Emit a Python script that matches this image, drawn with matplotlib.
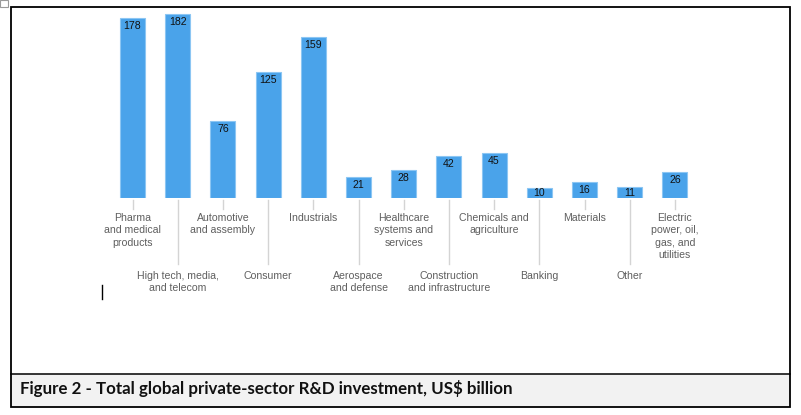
import matplotlib
matplotlib.use("Agg")
import matplotlib.pyplot as plt
from matplotlib.patches import Rectangle
from matplotlib.lines import Line2D

# ---- data ----
categories = [
    "Pharma\nand medical\nproducts",
    "High tech, media,\nand telecom",
    "Automotive\nand assembly",
    "Consumer",
    "Industrials",
    "Aerospace\nand defense",
    "Healthcare\nsystems and\nservices",
    "Construction\nand infrastructure",
    "Chemicals and\nagriculture",
    "Banking",
    "Materials",
    "Other",
    "Electric\npower, oil,\ngas, and\nutilities",
]
values = [178, 182, 76, 125, 159, 21, 28, 42, 45, 10, 16, 11, 26]
label_row = [0, 1, 0, 1, 0, 1, 0, 1, 0, 1, 0, 1, 0]  # 0 = upper, 1 = lower
caption = "Figure 2 - Total global private-sector R&D investment, US$ billion"

W, H = 801, 415
fig = plt.figure(figsize=(W / 100, H / 100), dpi=100)
fig.patch.set_facecolor("white")

def fx(px):
    return px / W

def fy(py):
    return 1 - py / H

# ---- frame & caption box (figure-level decoration) ----
box_l, box_r, box_t, box_b = 10.5, 790, 7, 407
cap_t = 374
fig.add_artist(Rectangle((fx(box_l), fy(box_b)), fx(box_r - box_l), (box_b - cap_t) / H,
                         transform=fig.transFigure, facecolor="#f2f2f2", edgecolor="none", zorder=0))
fig.add_artist(Rectangle((fx(box_l), fy(box_b)), fx(box_r - box_l), (box_b - box_t) / H,
                         transform=fig.transFigure, facecolor="none", edgecolor="black", lw=1.3, zorder=5))
fig.add_artist(Line2D([fx(box_l), fx(box_r)], [fy(cap_t), fy(cap_t)], transform=fig.transFigure,
                      color="black", lw=1.1, zorder=5))
# text cursor and tiny corner icon
fig.add_artist(Line2D([fx(101.5), fx(101.5)], [fy(285), fy(299)], transform=fig.transFigure,
                      color="black", lw=1.0))
fig.add_artist(Rectangle((0, fy(7)), fx(8), 7 / H, transform=fig.transFigure,
                         facecolor="white", edgecolor="#9a9a9a", lw=0.8))

cap = fig.text(fx(20), fy(388.5), caption, ha="left", va="center",
               fontsize=10.5, fontweight="bold", family=["Lato", "DejaVu Sans"], color="#111111")
fig.canvas.draw()
r = fig.canvas.get_renderer()
w = cap.get_window_extent(r).width
cap.set_fontsize(10.5 * 492 / w)

# ---- bar axes ----
x0, dx = 132.5, 45.2      # px centre of first bar, px step
px_per_unit = 1.016
ax_l, ax_r, ax_b, ax_t = 110, 700, 198.5, 10
ax = fig.add_axes([fx(ax_l), fy(ax_b), fx(ax_r - ax_l), (ax_b - ax_t) / H])
ax.set_xlim((ax_l - x0) / dx, (ax_r - x0) / dx)
ax.set_ylim(0, (ax_b - ax_t) / px_per_unit)
ax.axis("off")

xs = list(range(len(values)))
ax.bar(xs, values, width=25 / dx, color="#4aa3ea", edgecolor="#8cc6f3", linewidth=0.8)

lab_font = ["Liberation Sans", "DejaVu Sans"]
for i, (v, c, row) in enumerate(zip(values, categories, label_row)):
    off = min(8, v / 2)
    ax.text(i, v - off, str(v), ha="center", va="center", fontsize=7.6,
            color="#111111", family=lab_font)
    end = -10 if row == 0 else -64
    ax.plot([i, i], [-1, end], color="#d4d4d4", lw=1.0, clip_on=False)
    ty = -14 if row == 0 else -71
    ax.text(i, ty, c, ha="center", va="top", fontsize=7.6, color="#5f5f5f",
            family=lab_font, linespacing=1.3, clip_on=False)

fig.savefig("out.png", dpi=100)
